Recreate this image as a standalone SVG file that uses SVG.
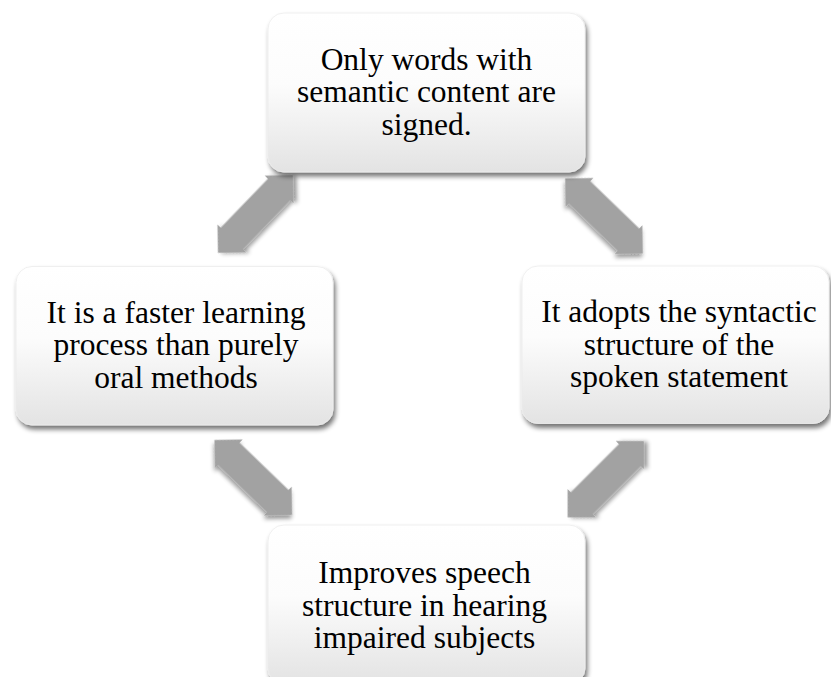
<svg xmlns="http://www.w3.org/2000/svg" width="831" height="677" viewBox="0 0 831 677">
  <defs>
    <linearGradient id="boxFill" x1="0" y1="0" x2="0" y2="1">
      <stop offset="0" stop-color="#ffffff"/>
      <stop offset="0.45" stop-color="#fcfcfc"/>
      <stop offset="1" stop-color="#e3e3e3"/>
    </linearGradient>
    <filter id="boxShadow" x="-10%" y="-10%" width="125%" height="130%">
      <feGaussianBlur in="SourceAlpha" stdDeviation="2.5"/>
      <feOffset dx="2" dy="4" result="b"/>
      <feComponentTransfer><feFuncA type="linear" slope="0.55"/></feComponentTransfer>
      <feMerge><feMergeNode/><feMergeNode in="SourceGraphic"/></feMerge>
    </filter>
    <filter id="arrowShadow" x="-30%" y="-30%" width="160%" height="160%">
      <feGaussianBlur in="SourceAlpha" stdDeviation="2"/>
      <feOffset dx="2" dy="3" result="b"/>
      <feComponentTransfer><feFuncA type="linear" slope="0.4"/></feComponentTransfer>
      <feMerge><feMergeNode/><feMergeNode in="SourceGraphic"/></feMerge>
    </filter>
    <path id="dblArrow" d="M -54 0 L -34 -20 L -34 -15.5 L 34 -15.5 L 34 -20 L 54 0 L 34 20 L 34 15.5 L -34 15.5 L -34 20 Z"/>
  </defs>
  <style>
    .box { fill: url(#boxFill); stroke: #ececec; stroke-width: 0.8; filter: url(#boxShadow); }
    .lbl { font-family: "Liberation Serif", "Times New Roman", serif; font-size: 31.5px; fill: #000000; text-anchor: middle; }
    .arrow { fill: #a2a2a2; filter: url(#arrowShadow); }
  </style>
  <rect width="831" height="677" fill="#ffffff"/>

  <g id="connectors">
    <use href="#dblArrow" class="arrow" transform="translate(255.5 214) rotate(-46)"/>
    <use href="#dblArrow" class="arrow" transform="translate(604 216) rotate(44)"/>
    <use href="#dblArrow" class="arrow" transform="translate(253.3 477.5) rotate(44)"/>
    <use href="#dblArrow" class="arrow" transform="translate(605.8 479.2) rotate(-45)"/>
  </g>

  <g id="node-top">
    <rect class="box" x="268" y="13" width="317" height="159" rx="16" ry="16"/>
    <text class="lbl" x="426.5" y="69.5">Only words with</text>
    <text class="lbl" x="426.5" y="102">semantic content are</text>
    <text class="lbl" x="426.5" y="134.5">signed.</text>
  </g>

  <g id="node-left">
    <rect class="box" x="16" y="266.5" width="317" height="158.5" rx="16" ry="16"/>
    <text class="lbl" x="176" y="322.5">It is a faster learning</text>
    <text class="lbl" x="176" y="355">process than purely</text>
    <text class="lbl" x="176" y="387.5">oral methods</text>
  </g>

  <g id="node-right">
    <rect class="box" x="522" y="266" width="307" height="157.5" rx="16" ry="16"/>
    <text class="lbl" x="679" y="322">It adopts the syntactic</text>
    <text class="lbl" x="679" y="354.5">structure of the</text>
    <text class="lbl" x="679" y="387">spoken statement</text>
  </g>

  <g id="node-bottom">
    <rect class="box" x="268" y="525" width="317" height="159" rx="16" ry="16"/>
    <text class="lbl" x="424.5" y="583">Improves speech</text>
    <text class="lbl" x="424.5" y="615.5">structure in hearing</text>
    <text class="lbl" x="424.5" y="648">impaired subjects</text>
  </g>
</svg>
